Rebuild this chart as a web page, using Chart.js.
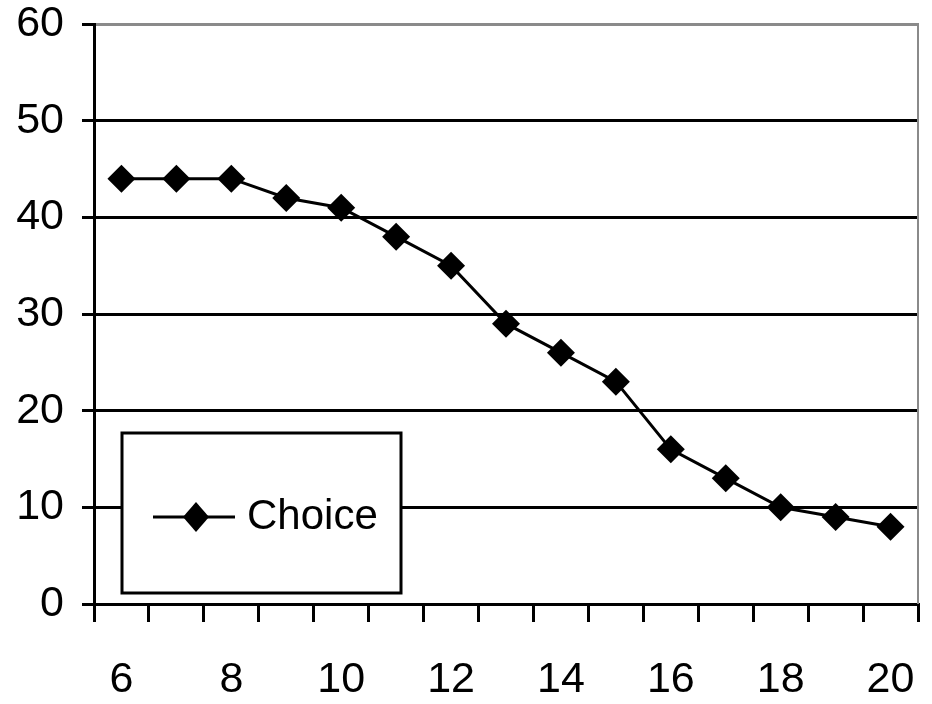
<!DOCTYPE html>
<html>
<head>
<meta charset="utf-8">
<script src="https://cdn.jsdelivr.net/npm/chart.js@4"></script>
<style>
  html, body { margin: 0; padding: 0; background: #fff; }
  #wrap { width: 932px; height: 704px; }
</style>
</head>
<body>
<div id="wrap"><canvas id="chartCanvas" width="932" height="704"></canvas></div>
<script>
// data
const categories = [6, 7, 8, 9, 10, 11, 12, 13, 14, 15, 16, 17, 18, 19, 20];
const choiceValues = [44, 44, 44, 42, 41, 38, 35, 29, 26, 23, 16, 13, 10, 9, 8];
const yTicks = [0, 10, 20, 30, 40, 50, 60];

const FONT = "'Liberation Sans', Arial, sans-serif";

// legend box inside the plot + grey right border
const framePlugin = {
  id: "frame",
  afterDraw(chart) {
    const { ctx, chartArea } = chart;
    ctx.save();
    // right border
    ctx.strokeStyle = "#8a8a8a";
    ctx.lineWidth = 2;
    ctx.beginPath();
    ctx.moveTo(chartArea.right, chartArea.top - 1);
    ctx.lineTo(chartArea.right, chartArea.bottom);
    ctx.stroke();

    // legend
    const bx = 122, by = 433, bw = 279, bh = 160;
    ctx.fillStyle = "#fff";
    ctx.fillRect(bx, by, bw, bh);
    ctx.strokeStyle = "#000";
    ctx.lineWidth = 3;
    ctx.strokeRect(bx, by, bw, bh);
    const ly = 517;
    ctx.lineWidth = 3;
    ctx.beginPath();
    ctx.moveTo(153, ly);
    ctx.lineTo(235, ly);
    ctx.stroke();
    ctx.fillStyle = "#000";
    ctx.beginPath();
    ctx.moveTo(196, ly - 15);
    ctx.lineTo(209, ly);
    ctx.lineTo(196, ly + 15);
    ctx.lineTo(183, ly);
    ctx.closePath();
    ctx.fill();
    ctx.font = "42px " + FONT;
    ctx.textBaseline = "middle";
    ctx.textAlign = "left";
    ctx.fillText(chart.data.datasets[0].label, 247, ly);
    ctx.restore();
  }
};

const ctx = document.getElementById("chartCanvas").getContext("2d");
new Chart(ctx, {
  type: "line",
  data: {
    labels: categories,
    datasets: [
      {
        label: "Choice",
        data: choiceValues,
        borderColor: "#000",
        borderWidth: 3,
        backgroundColor: "#000",
        pointStyle: "rectRot",
        pointRadius: 14,
        pointHoverRadius: 14,
        pointBorderWidth: 0,
        tension: 0,
        fill: false,
      },
    ],
  },
  options: {
    responsive: false,
    animation: false,
    layout: { padding: { left: 0, right: 11, top: 24, bottom: 0 } },
    plugins: {
      legend: { display: false },
      tooltip: { enabled: false },
    },
    scales: {
      x: {
        type: "category",
        offset: true,
        afterFit(scale) {
          scale.height = 100;
          scale.paddingLeft = 0;
          scale.paddingRight = 0;
        },
        grid: {
          offset: true,
          drawOnChartArea: false,
          drawTicks: true,
          tickLength: 18,
          color: "#000",
          lineWidth: 3,
        },
        border: { color: "#000", width: 3 },
        ticks: {
          autoSkip: false,
          maxRotation: 0,
          padding: 32,
          color: "#000",
          font: { family: FONT, size: 43 },
          callback(value, index) {
            const c = categories[index];
            return c % 2 === 0 ? String(c) : "";
          },
        },
      },
      y: {
        min: 0,
        max: 60,
        afterFit(scale) {
          scale.width = 94;
          scale.paddingTop = 0;
          scale.paddingBottom = 0;
        },
        afterBuildTicks(scale) {
          scale.ticks = yTicks.map((v) => ({ value: v }));
        },
        grid: {
          color: (c) => (c.tick && c.tick.value === 60 ? "#8a8a8a" : "#000"),
          tickColor: "#000",
          lineWidth: 3,
          tickLength: 12,
        },
        border: { color: "#000", width: 3 },
        ticks: {
          padding: 18,
          color: "#000",
          font: { family: FONT, size: 43 },
        },
      },
    },
  },
  plugins: [framePlugin],
});
</script>
</body>
</html>
